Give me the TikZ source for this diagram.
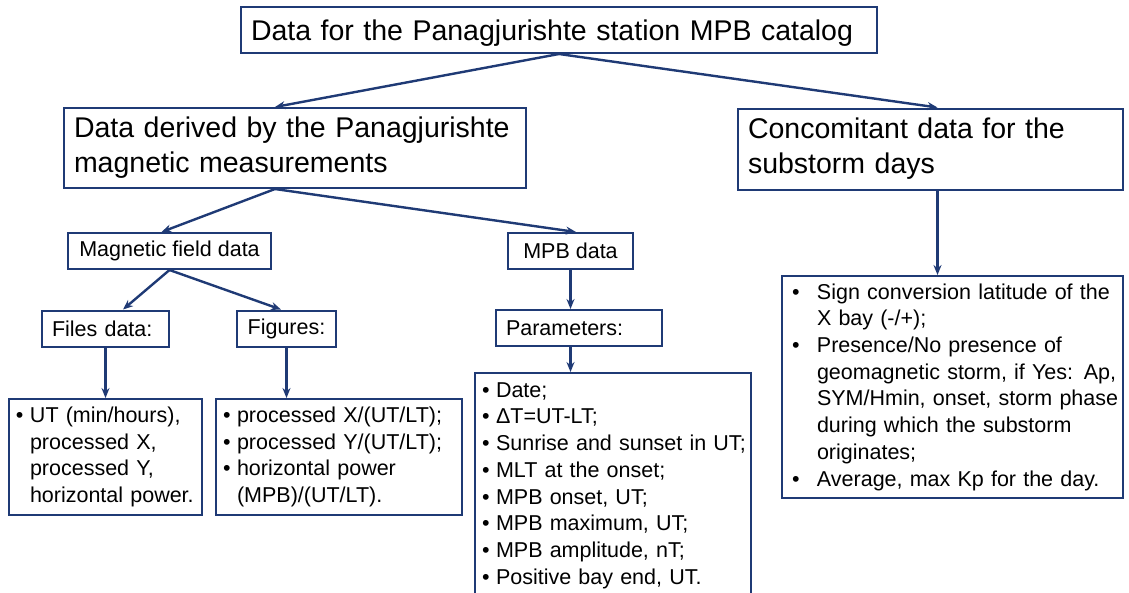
\documentclass[tikz,border=0pt]{standalone}
\usepackage{fontspec}
\setmainfont{Liberation Sans}
\usepackage{xcolor}
\usepackage{tikz}
\usetikzlibrary{positioning,arrows.meta,calc}
\definecolor{lineNavy}{HTML}{1F3A75}
\newcommand{\bitem}[2][14pt]{\mbox{\makebox[#1][l]{\textbullet}#2}}
\newcommand{\bcont}[2][14pt]{\mbox{\hspace*{#1}#2}}

\begin{document}
\begin{tikzpicture}[x=1pt, y=-1pt,
    bigbox/.style={draw=lineNavy, line width=2pt, inner xsep=10pt, inner ysep=0pt, align=left, font=\fontsize{28.5}{35}\selectfont},
    smallbox/.style={draw=lineNavy, line width=2pt, inner xsep=10pt, inner ysep=0pt, minimum height=36pt, font=\fontsize{21.5}{26.7}\selectfont},
    listbox/.style={draw=lineNavy, line width=2pt, inner xsep=7pt, inner ysep=0pt, align=left, font=\fontsize{21.5}{26.7}\selectfont},
    arr/.style={-{Stealth[length=10pt,width=8pt]}, draw=lineNavy, line width=2.4pt},
  ]
  \useasboundingbox (0,0) rectangle (1129,592);

  % top levels
  \node[bigbox, text width=616pt, text height=22pt, text depth=2pt, minimum height=46pt] (title) at (559,30) {\mbox{Data for the Panagjurishte station MPB catalog}};
  \node[bigbox, text width=442pt, minimum height=80pt] (derived) at (295,148) {\mbox{Data derived by the Panagjurishte}\\\mbox{magnetic measurements}};
  \node[bigbox, text width=365pt, minimum height=81pt] (conc) at (930.5,149) {\mbox{Concomitant data for the}\\\mbox{substorm days}};

  % second level
  \node[smallbox, minimum width=203pt] (mag) at (169.5,251) {Magnetic field data};
  \node[smallbox, minimum width=125pt] (mpb) at (570.5,251) {MPB data};
  \node[smallbox, text width=107pt, align=left] (files) at (105.5,328.5) {Files data:};
  \node[smallbox, minimum width=99pt] (figs) at (286.5,328.5) {Figures:};
  \node[smallbox, text width=146pt, align=left] (params) at (579,328) {Parameters:};

  % lists
  \node[listbox, text width=179pt, minimum height=116pt] (fileslist) at (105.5,457) {%
    \bitem{UT (min/hours),}\\ \bcont{processed X,}\\ \bcont{processed Y,}\\ \bcont{horizontal power.}};
  \node[listbox, text width=232pt, minimum height=116pt] (figslist) at (339,457) {%
    \bitem{processed X/(UT/LT);}\\ \bitem{processed Y/(UT/LT);}\\ \bitem{horizontal power}\\ \bcont{(MPB)/(UT/LT).}};
  \node[listbox, text width=262pt, minimum height=225pt] (paramlist) at (613,485.5) {%
    \bitem{Date;}\\ \bitem{ΔT=UT-LT;}\\ \bitem{Sunrise and sunset in UT;}\\ \bitem{MLT at the onset;}\\
    \bitem{MPB onset, UT;}\\ \bitem{MPB maximum, UT;}\\ \bitem{MPB amplitude, nT;}\\ \bitem{Positive bay end, UT.}};
  \node[listbox, inner xsep=10pt, text width=321pt, minimum height=222pt] (conclist) at (952.5,387) {%
    \bitem[25pt]{Sign conversion latitude of the}\\ \bcont[25pt]{X bay (-/+);}\\
    \bitem[25pt]{Presence/No presence of}\\ \bcont[25pt]{geomagnetic storm, if Yes: Ap,}\\
    \bcont[25pt]{SYM/Hmin, onset, storm phase}\\ \bcont[25pt]{during which the substorm}\\
    \bcont[25pt]{originates;}\\ \bitem[25pt]{Average, max Kp for the day.}};

  % connectors
  \coordinate (dsplit) at ($(derived.south)+(-20,0)$);
  \coordinate (cdrop) at ($(conc.south)+(7,0)$);
  \draw[arr] (title.south) -- ($(derived.north)+(-20,0)$);
  \draw[arr] (title.south) -- ($(conc.north)+(7,0)$);
  \draw[arr] (dsplit) -- ($(mag.north)+(-8,0)$);
  \draw[arr] (dsplit) -- ($(mpb.north)+(5.5,0)$);
  \draw[arr] (mag.south) -- ($(files.north)+(17.5,0)$);
  \draw[arr] (mag.south) -- ($(figs.north)+(-5.5,0)$);
  \draw[arr] (files.south) -- (files.south |- fileslist.north);
  \draw[arr] (figs.south) -- (figs.south |- figslist.north);
  \draw[arr] (mpb.south) -- (mpb.south |- params.north);
  \draw[arr] (params.south -| mpb.south) -- (paramlist.north -| mpb.south);
  \draw[arr] (cdrop) -- (cdrop |- conclist.north);
\end{tikzpicture}
\end{document}
